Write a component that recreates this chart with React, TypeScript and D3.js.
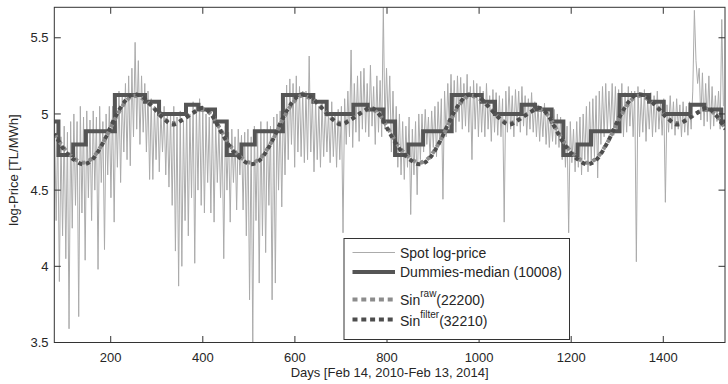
import React from 'react';
import * as d3 from 'd3';

// ---------- data ----------
const xTicks = [200, 400, 600, 800, 1000, 1200, 1400];
const yTicks = [3.5, 4, 4.5, 5, 5.5];
const yTickLabels = ['3.5', '4', '4.5', '5', '5.5'];

// spot log-price, one value every 3.5 days starting at day 78
const spotStart = 78;
const spotStep = 3.5;
const spotValues = [
  4.95, 4.30, 4.90, 3.90, 4.85, 4.20, 4.92, 4.05, 4.88, 3.59, 4.95, 4.25,
  5.00, 4.40, 4.95, 3.67, 5.05, 4.35, 4.98, 4.04, 5.02, 4.45, 4.96, 4.30,
  5.02, 4.50, 4.98, 3.98, 5.05, 4.55, 4.95, 4.11, 5.00, 4.60, 5.05, 4.45,
  5.05, 4.29, 5.10, 4.65, 5.15, 4.55, 5.12, 4.75, 5.20, 4.70, 5.25, 4.66,
  5.30, 4.85, 5.47, 4.90, 5.35, 4.80, 5.25, 4.88, 5.20, 4.75, 5.15, 4.57,
  5.10, 4.57, 5.05, 4.70, 5.08, 4.62, 5.02, 4.75, 5.05, 4.60, 5.00, 4.52,
  5.00, 4.40, 5.05, 4.10, 4.98, 3.87, 5.02, 4.00, 4.95, 4.30, 5.05, 4.20,
  5.00, 4.45, 5.08, 4.02, 5.05, 4.50, 5.10, 4.40, 5.02, 4.35, 5.00, 4.55,
  4.98, 4.35, 5.00, 4.29, 4.95, 4.55, 4.92, 4.45, 4.90, 4.05, 4.92, 4.50,
  4.88, 4.29, 4.90, 4.55, 4.85, 4.37, 4.90, 4.60, 4.86, 4.37, 4.88, 4.20,
  4.90, 3.78, 4.85, 3.50, 4.92, 4.30, 4.88, 3.89, 4.95, 4.20, 4.90, 4.09,
  4.95, 4.40, 4.92, 3.78, 4.98, 3.89, 5.00, 4.50, 5.02, 4.39, 5.10, 4.60,
  5.19, 4.70, 5.23, 4.80, 5.20, 4.65, 5.25, 4.75, 5.18, 4.72, 5.15, 4.68,
  5.15, 4.70, 5.38, 4.75, 5.12, 4.62, 5.10, 4.70, 5.05, 4.65, 5.08, 4.72,
  5.05, 4.75, 5.02, 4.68, 5.08, 4.72, 5.00, 4.65, 5.03, 4.70, 5.05, 4.22,
  5.10, 4.80, 5.15, 4.85, 5.42, 4.78, 5.20, 4.88, 5.25, 4.82, 5.28, 4.90,
  5.30, 4.88, 5.20, 4.85, 5.32, 4.92, 5.18, 4.80, 5.25, 4.88, 5.22, 4.85,
  5.70, 4.90, 5.30, 4.95, 5.25, 4.75, 5.15, 4.72, 5.05, 4.65, 5.00, 4.60,
  4.95, 4.57, 4.92, 4.65, 4.98, 4.34, 4.90, 4.60, 4.95, 4.47, 5.00, 4.70,
  5.00, 4.75, 5.03, 4.80, 4.98, 4.70, 5.02, 4.78, 5.05, 4.72, 5.08, 4.80,
  5.10, 4.44, 5.15, 4.85, 5.20, 4.90, 5.26, 4.92, 5.22, 4.88, 5.25, 4.95,
  5.24, 4.90, 5.20, 4.92, 5.26, 4.88, 5.18, 4.70, 5.22, 4.90, 5.20, 4.85,
  5.18, 4.88, 5.15, 4.85, 5.20, 4.90, 5.12, 4.82, 5.16, 4.88, 5.14, 4.86,
  5.12, 4.85, 5.10, 4.29, 5.15, 4.88, 5.18, 4.90, 5.12, 4.85, 5.16, 4.92,
  5.15, 4.88, 5.18, 4.92, 5.12, 4.86, 5.10, 4.90, 5.14, 4.88, 5.08, 4.85,
  5.06, 4.82, 5.04, 4.85, 5.07, 4.80, 5.02, 4.78, 5.00, 4.82, 5.03, 4.80,
  5.00, 4.78, 4.98, 4.70, 4.95, 4.65, 4.92, 4.22, 4.95, 4.68, 4.90, 4.62,
  4.95, 4.65, 4.98, 4.60, 5.00, 4.70, 5.05, 4.62, 5.08, 4.68, 5.10, 4.72,
  5.12, 4.58, 5.15, 4.80, 5.18, 4.85, 5.20, 4.88, 5.15, 4.90, 5.20, 4.86,
  5.18, 4.88, 5.16, 4.90, 5.20, 4.85, 5.14, 4.88, 5.18, 4.92, 5.15, 4.85,
  5.15, 4.03, 5.18, 4.85, 5.12, 4.88, 5.16, 4.82, 5.10, 4.90, 5.14, 4.85,
  5.12, 4.88, 5.15, 4.90, 5.08, 4.86, 5.10, 4.42, 5.06, 4.88, 5.12, 4.90,
  5.08, 4.86, 5.10, 4.90, 5.06, 4.85, 5.08, 4.88, 5.05, 4.86, 5.08, 4.90,
  5.15, 5.68, 5.35, 5.20, 5.30, 4.96, 5.27, 4.92, 5.20, 4.95, 5.25, 4.90,
  5.18, 4.92, 5.12, 4.95, 5.15, 4.90, 5.62, 5.05,
];

// Dummies-median: step start days and levels
const stepDays = [
  77.5, 86.5, 118.5, 146, 209, 274.5, 305, 363.5, 390.5, 426.5,
  452, 484, 513, 574, 640, 669, 727, 758, 792,
  817.5, 846.5, 878.5, 940.5, 1005.5, 1034.5, 1092.5, 1121.5, 1157.5,
  1183, 1214, 1243, 1305, 1369, 1401, 1459, 1489, 1526, 1534,
];
const stepValues = [
  4.95, 4.73, 4.80, 4.887, 5.125, 5.08, 5.0, 5.06, 5.03, 4.95,
  4.73, 4.80, 4.887, 5.125, 5.08, 5.0, 5.06, 5.03, 4.95,
  4.73, 4.80, 4.887, 5.125, 5.08, 5.0, 5.06, 5.03, 4.95,
  4.73, 4.80, 4.887, 5.125, 5.08, 5.0, 5.06, 5.03, 4.95, 4.95,
];

// sinusoidal fits (days / values)
const sinDays = [
  78, 100, 120,
  140, 160, 185, 210, 230, 250, 270, 290, 315, 335, 355, 380, 400, 420, 440, 460, 485,
  505, 525, 550, 575, 595, 615, 635, 655, 680, 700, 720, 745, 765, 785, 805, 825, 850,
  870, 890, 915, 940, 960, 980, 1000, 1020, 1045, 1065, 1085, 1110, 1130, 1150, 1170, 1190, 1215,
  1235, 1255, 1280, 1305, 1325, 1345, 1365, 1385, 1410, 1430, 1450, 1475, 1495, 1515, 1535,
];
const sinRawValues = [
  4.87, 4.77, 4.71,
  4.68, 4.71, 4.82, 4.97, 5.07, 5.12, 5.10, 5.05, 4.97, 4.94, 4.96, 5.01, 5.03, 4.99, 4.89, 4.79, 4.71,
  4.68, 4.71, 4.82, 4.97, 5.07, 5.12, 5.10, 5.05, 4.97, 4.94, 4.96, 5.01, 5.03, 4.99, 4.89, 4.79, 4.71,
  4.68, 4.71, 4.82, 4.97, 5.07, 5.12, 5.10, 5.05, 4.97, 4.94, 4.96, 5.01, 5.03, 4.99, 4.89, 4.79, 4.71,
  4.68, 4.71, 4.82, 4.97, 5.07, 5.12, 5.10, 5.05, 4.97, 4.94, 4.96, 5.01, 5.03, 4.99, 4.90,
];
const sinFilterValues = [
  4.87, 4.76, 4.70,
  4.67, 4.70, 4.82, 4.98, 5.08, 5.13, 5.11, 5.05, 4.97, 4.93, 4.96, 5.01, 5.04, 4.99, 4.88, 4.78, 4.70,
  4.67, 4.70, 4.82, 4.98, 5.08, 5.13, 5.11, 5.05, 4.97, 4.93, 4.96, 5.01, 5.04, 4.99, 4.88, 4.78, 4.70,
  4.67, 4.70, 4.82, 4.98, 5.08, 5.13, 5.11, 5.05, 4.97, 4.93, 4.96, 5.01, 5.04, 4.99, 4.88, 4.78, 4.70,
  4.67, 4.70, 4.82, 4.98, 5.08, 5.13, 5.11, 5.05, 4.97, 4.93, 4.96, 5.01, 5.04, 4.99, 4.90,
];

// ---------- layout ----------
const W = 728;
const H = 384;
const L = 54.3, R = 725, T = 7.3, B = 342.5;
const FONT = '"Liberation Sans", Arial, Helvetica, sans-serif';
const TXT = '#262626';
const AX = '#333333';

const SPOT_C = '#ababab';
const DUM_C = '#555555';
const RAW_C = '#8c8c8c';
const FIL_C = '#4d4d4d';

export default function App() {
  const x = d3.scaleLinear().domain([77.5, 1534]).range([L, R]);
  const y = d3.scaleLinear().domain([3.5, 5.7]).range([B, T]);

  const spotLine = d3
    .line<number>()
    .x((_, i) => x(spotStart + i * spotStep))
    .y((v) => y(v));

  const stepLine = d3
    .line<number>()
    .curve(d3.curveStepAfter)
    .x((_, i) => x(stepDays[i]))
    .y((v) => y(v));

  const sinLine = d3
    .line<number>()
    .curve(d3.curveMonotoneX)
    .x((_, i) => x(sinDays[i]))
    .y((v) => y(v));

  const tl = 6.5;

  // legend
  const lgX = 344, lgY = 238.5, lgW = 225.5, lgH = 101;
  const sx1 = 352.5, sx2 = 395, tx = 400;

  return (
    <svg
      width={W}
      height={H}
      style={{ position: 'absolute', left: 0, top: 0, background: '#fff' }}
      fontFamily={FONT}
    >
      <rect x={0} y={0} width={W} height={H} fill="#fff" />
      <defs>
        <clipPath id="plot">
          <rect x={L} y={T} width={R - L} height={B - T} />
        </clipPath>
      </defs>

      <g clipPath="url(#plot)">
        <path d={spotLine(spotValues) || ''} fill="none" stroke={SPOT_C} strokeWidth={1} />
        <path d={stepLine(stepValues) || ''} fill="none" stroke={DUM_C} strokeWidth={4} strokeLinejoin="miter" />
        <path d={sinLine(sinRawValues) || ''} fill="none" stroke={RAW_C} strokeWidth={4} strokeDasharray="4 4" />
        <path d={sinLine(sinFilterValues) || ''} fill="none" stroke={FIL_C} strokeWidth={4} strokeDasharray="4 4" strokeDashoffset={2} />
      </g>

      {/* axes box */}
      <rect x={L} y={T} width={R - L} height={B - T} fill="none" stroke={AX} strokeWidth={1} />

      {xTicks.map((t) => (
        <g key={'x' + t}>
          <line x1={x(t)} x2={x(t)} y1={B} y2={B - tl} stroke={AX} />
          <line x1={x(t)} x2={x(t)} y1={T} y2={T + tl} stroke={AX} />
          <text x={x(t)} y={361.5} textAnchor="middle" fontSize={13} fill={TXT}>
            {t}
          </text>
        </g>
      ))}
      {yTicks.map((t, i) => (
        <g key={'y' + t}>
          <line x1={L} x2={L + tl} y1={y(t)} y2={y(t)} stroke={AX} />
          <line x1={R} x2={R - tl} y1={y(t)} y2={y(t)} stroke={AX} />
          <text x={48.5} y={y(t)} dy="0.35em" textAnchor="end" fontSize={13} fill={TXT}>
            {yTickLabels[i]}
          </text>
        </g>
      ))}

      <text x={(L + R) / 2} y={377} textAnchor="middle" fontSize={13} fill={TXT}>
        Days [Feb 14, 2010-Feb 13, 2014]
      </text>
      <text transform="rotate(-90)" x={-170} y={18} textAnchor="middle" fontSize={13} fill={TXT}>
        log-Price [TL/MWh]
      </text>

      {/* legend */}
      <rect x={lgX} y={lgY} width={lgW} height={lgH} fill="#fff" stroke={AX} strokeWidth={1} />
      <line x1={sx1} x2={sx2} y1={252.5} y2={252.5} stroke={SPOT_C} strokeWidth={1} />
      <text x={tx} y={257.5} fontSize={14} fill={TXT}>Spot log-price</text>

      <line x1={sx1} x2={sx2} y1={272} y2={272} stroke={DUM_C} strokeWidth={4} />
      <text x={tx} y={277.3} fontSize={14} fill={TXT}>Dummies-median (10008)</text>

      <line x1={sx1} x2={sx2} y1={299.5} y2={299.5} stroke={RAW_C} strokeWidth={4} strokeDasharray="5 3.8" />
      <text x={tx} y={304.5} fontSize={14} fill={TXT}>
        Sin
        <tspan fontSize={10} dy={-8}>raw</tspan>
        <tspan dy={8}>(22200)</tspan>
      </text>

      <line x1={sx1} x2={sx2} y1={319.5} y2={319.5} stroke={FIL_C} strokeWidth={4} strokeDasharray="5 3.8" />
      <text x={tx} y={325.5} fontSize={14} fill={TXT}>
        Sin
        <tspan fontSize={10} dy={-8}>filter</tspan>
        <tspan dy={8}>(32210)</tspan>
      </text>
    </svg>
  );
}
